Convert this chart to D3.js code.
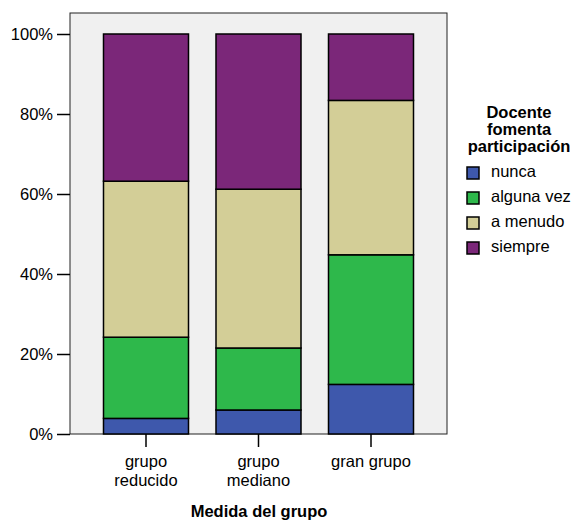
<!DOCTYPE html>
<html><head><meta charset="utf-8">
<script src="https://cdn.jsdelivr.net/npm/d3@7"></script>
<style>body{margin:0;background:#fff}text{font-family:"Liberation Sans",Arial,sans-serif}</style>
</head><body><svg id="c" width="577" height="521"></svg>
<script>
const categories = [["grupo","reducido"],["grupo","mediano"],["gran grupo"]];
const catKeys = ["grupo reducido","grupo mediano","gran grupo"];
const seriesNames = ["nunca","alguna vez","a menudo","siempre"];
const nunca = [3.9, 6.0, 12.4];
const algunaVez = [20.3, 15.5, 32.4];
const aMenudo = [39.0, 39.7, 38.6];
const siempre = [36.8, 38.8, 16.6];
const colors = ["#3E58AC","#2EB84B","#D3CE97","#7B2779"];
const yTicks = [0,20,40,60,80,100];

const svg = d3.select("#c");
const fs = 16.5;
const plot = {x0:70, x1:447, y0:13, y1:434};
svg.append("rect").attr("x",plot.x0).attr("y",plot.y0).attr("width",plot.x1-plot.x0).attr("height",plot.y1-plot.y0)
  .attr("fill","#F0F0F0").attr("stroke","#222").attr("stroke-width",1);

const y = d3.scaleLinear().domain([0,100]).range([434,34]);
const x = d3.scaleBand().domain(catKeys).range([89.75,427.25]).paddingInner(0.2444).paddingOuter(0.1222);

const rows = catKeys.map((k,i)=>({key:k, nunca:nunca[i], "alguna vez":algunaVez[i], "a menudo":aMenudo[i], siempre:siempre[i]}));
const stacked = d3.stack().keys(seriesNames)(rows);

stacked.forEach((s,si)=>{
  svg.append("g").selectAll("rect").data(s).join("rect")
    .attr("x",d=>x(d.data.key)).attr("width",x.bandwidth())
    .attr("y",d=>y(d[1])).attr("height",d=>y(d[0])-y(d[1]))
    .attr("fill",colors[si]).attr("stroke","#000").attr("stroke-width",1.5);
});

// y axis
const ya = svg.append("g").attr("transform",`translate(${plot.x0},0)`)
  .call(d3.axisLeft(y).tickValues(yTicks).tickFormat(d=>d+"%").tickSize(13).tickPadding(4));
ya.select(".domain").remove();
ya.selectAll(".tick line").attr("stroke","#000").attr("stroke-width",1.5);
ya.selectAll(".tick text").attr("font-size",fs).attr("fill","#000").style("font-family","Liberation Sans, Arial, sans-serif");

// x axis
const xa = svg.append("g").attr("transform",`translate(0,${plot.y1})`)
  .call(d3.axisBottom(x).tickSize(13).tickFormat(""));
xa.select(".domain").remove();
xa.selectAll(".tick line").attr("stroke","#000").attr("stroke-width",1.5);
catKeys.forEach((k,i)=>{
  const t = svg.append("text").attr("x",x(k)+x.bandwidth()/2).attr("text-anchor","middle")
    .attr("font-size",fs).attr("fill","#000");
  categories[i].forEach((line,j)=>{
    t.append("tspan").attr("x",x(k)+x.bandwidth()/2).attr("y",467+j*19).text(line);
  });
});
svg.append("text").attr("x",259).attr("y",517).attr("text-anchor","middle")
  .attr("font-size",fs).attr("font-weight","bold").text("Medida del grupo");

// legend
const title = ["Docente","fomenta","participación"];
title.forEach((t,i)=>svg.append("text").attr("x",519).attr("y",118+i*17).attr("text-anchor","middle")
  .attr("font-size",fs).attr("font-weight","bold").text(t));
seriesNames.forEach((n,i)=>{
  svg.append("rect").attr("x",467).attr("y",167+i*25).attr("width",12).attr("height",12)
    .attr("fill",colors[i]).attr("stroke","#000").attr("stroke-width",1.5);
  svg.append("text").attr("x",491).attr("y",177+i*25).attr("font-size",fs).text(n);
});
</script></body></html>
